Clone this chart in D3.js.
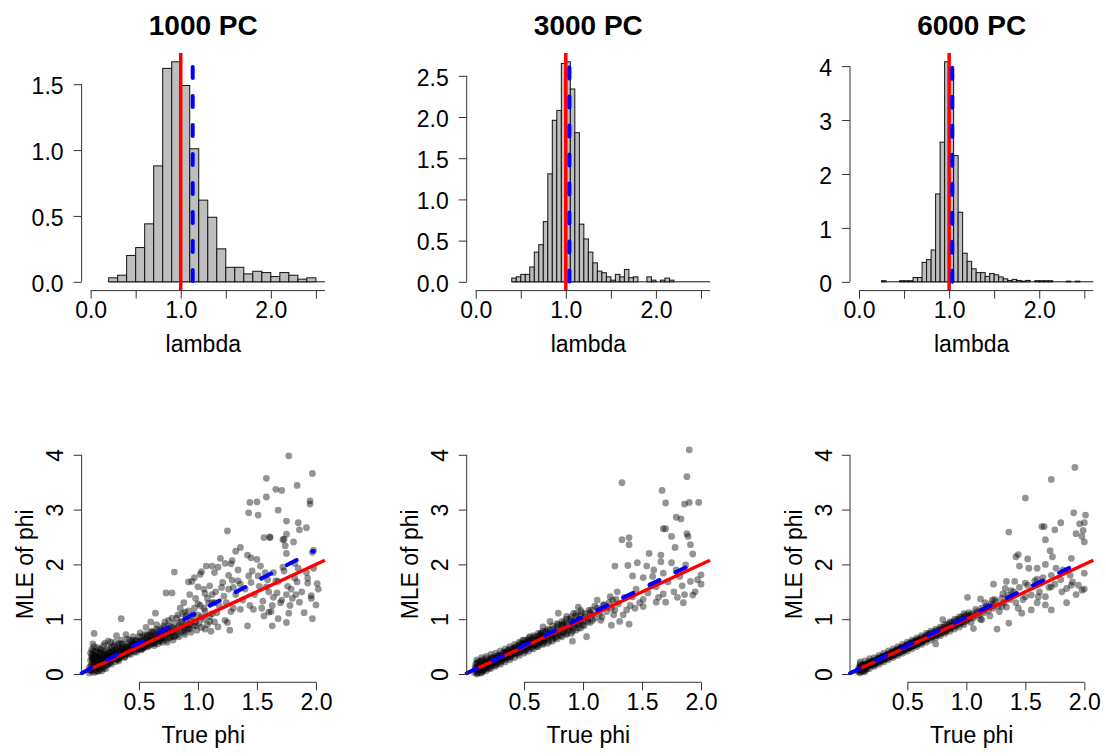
<!DOCTYPE html>
<html lang="en">
<head>
<meta charset="UTF-8">
<title>lambda and phi estimates</title>
<script src="https://d3js.org/d3.v7.min.js"></script>
<style>
  body { margin: 0; background: #fff; }
  svg { display: block; font-family: 'Liberation Sans', Arial, sans-serif; }
</style>
</head>
<body>
<svg id="chart" width="1106" height="756"></svg>
<script>
// ---- data ----
const panelTitles = ['1000 PC', '3000 PC', '6000 PC'];

// histogram of lambda (density), bins start at binStart with width binWidth
const binStart = [0.2, 0.4, 0.25];
const binWidth = [0.1, 0.05, 0.05];
const density1000 = [0.03, 0.05, 0.20, 0.26, 0.44, 0.88, 1.62, 1.67, 1.49, 1.01, 0.62, 0.49,
  0.25, 0.11, 0.11, 0.06, 0.08, 0.07, 0.04, 0.07, 0.05, 0.02, 0.03, 0];
const density3000 = [0.045, 0.06, 0.09, 0.09, 0.18, 0.36, 0.45, 0.73, 1.31, 1.96, 2.08, 2.65,
  2.67, 2.34, 1.81, 0.70, 0.52, 0.36, 0.23, 0.13, 0.11, 0.06, 0.02, 0.09, 0.06, 0.15, 0.05, 0.06,
  0, 0, 0.06, 0.02, 0, 0.02, 0.045, 0.02, 0, 0, 0, 0, 0, 0, 0, 0];
const density6000 = [0.02, 0, 0, 0, 0.02, 0.02, 0.02, 0.08, 0.08, 0.36, 0.41, 0.59, 1.63, 2.59,
  4.08, 3.85, 2.34, 1.29, 0.53, 0.38, 0.24, 0.17, 0.17, 0.10, 0.155, 0.13, 0.09, 0.055, 0.025,
  0.045, 0.025, 0.012, 0.025, 0, 0.02, 0.02, 0.02, 0.02, 0, 0, 0, 0.012, 0, 0.012, 0, 0, 0];
const densities = [density1000, density3000, density6000];

const histXTicks = [0, 0.5, 1, 1.5, 2, 2.5];
const histYTicks = [[0, 0.5, 1, 1.5], [0, 0.5, 1, 1.5, 2, 2.5], [0, 1, 2, 3, 4]];
const histYFormat = ['.1f', '.1f', 'd'];

const trueLambda = 1;
const lambdaHat = [1.133, 1.04, 1.035];
const blueTop = [1.63, 2.6, 3.97];

// scatter: [true phi, MLE of phi]
const pts1000 = [
  [1.77,3.98],[1.97,3.66],[1.58,3.57],[1.84,3.44],[1.66,3.37],[1.71,3.35],[1.58,3.23],[1.44,3.13],[1.50,3.14],[1.95,3.16],
  [1.95,3.10],[1.68,2.99],[1.43,2.94],[1.51,2.90],[1.75,2.79],[1.85,2.76],[1.92,2.67],[1.86,2.63],[1.25,2.61],[1.75,2.55],
  [1.56,2.49],[1.61,2.49],[1.61,2.50],[1.73,2.46],[1.72,2.45],[1.81,2.41],[1.74,2.34],[1.36,2.31],[1.98,2.26],[1.97,2.22],
  [1.32,2.24],[1.75,2.20],[1.42,2.17],[1.45,2.12],[1.29,2.07],[1.19,2.11],[1.50,2.09],[1.07,1.97],[1.12,1.97],[1.17,1.95],
  [1.23,2.02],[1.28,2.01],[1.53,1.97],[1.82,2.02],[1.85,1.93],[1.98,1.93],[0.80,1.86],[1.03,1.87],[1.14,1.85],[1.34,1.90],
  [1.43,1.79],[1.51,1.79],[1.64,1.85],[1.73,1.88],[1.92,1.85],[0.97,1.76],[1.02,1.82],[0.95,1.69],[0.92,1.68],[1.29,1.71],
  [1.10,1.61],[1.21,1.67],[1.36,1.64],[1.45,1.67],[1.59,1.72],[1.68,1.69],[1.82,1.75],[1.93,1.66],[2.01,1.65],[1.00,1.59],
  [1.05,1.55],[1.26,1.55],[1.30,1.58],[1.58,1.59],[1.79,1.55],[2.02,1.55],[0.73,1.48],[0.78,1.48],[1.06,1.47],[1.12,1.45],
  [1.22,1.42],[1.67,1.48],[1.75,1.45],[1.83,1.45],[1.96,1.43],[1.64,1.40],[1.55,1.33],[1.71,1.35],[1.86,1.31],[2.00,1.26],
  [0.88,1.30],[1.09,1.29],[1.14,1.30],[1.36,1.18],[1.28,1.14],[1.47,1.18],[1.62,1.14],[1.77,1.11],[1.23,0.98],[1.25,0.94],
  [1.42,0.88],[1.56,1.06],[1.60,1.13],[1.68,1.01],[1.75,0.94],[1.63,0.88],[1.97,1.01],[0.64,1.11],[0.35,1.01],[0.12,0.74],
  [0.83,1.08],[0.89,1.13],[0.96,1.09],[1.03,1.04],[1.10,0.96],[1.17,0.86],[1.27,0.80],
  [1.05,1.20],[1.08,1.38],[1.12,1.10],[1.15,1.50],[1.18,1.25],[1.20,1.58],[1.24,1.30],[1.26,1.80],[1.30,1.20],[1.32,1.45],
  [1.34,1.70],[1.38,1.35],[1.40,1.55],[1.44,1.25],[1.46,1.88],[1.48,1.45],[1.52,1.60],[1.54,1.20],[1.57,1.85],[1.60,1.50],
  [1.63,1.25],[1.66,1.70],[1.70,1.30],[1.72,1.95],[1.76,1.60],[1.78,1.25],[1.80,1.38],[1.84,1.68],[1.88,1.50],[1.90,1.12],
  [1.93,1.75],[1.96,1.38],[0.98,1.38],[1.00,1.28],[0.93,1.45],[0.85,1.20],[0.90,1.05],[0.78,1.02],[0.72,0.95],[1.06,0.82],
  [1.11,0.78],[0.60,0.95],
  [0.08,0.02],[0.08,0.12],[0.09,0.25],[0.09,0.38],[0.10,0.05],[0.10,0.18],[0.10,0.30],[0.10,0.45],[0.11,0.10],[0.11,0.22],
  [0.11,0.55],[0.12,0.03],[0.12,0.15],[0.12,0.34],[0.13,0.08],[0.13,0.26],[0.13,0.42],[0.14,0.12],[0.14,0.20],[0.15,0.05],
  [0.15,0.30],[0.15,0.48],[0.16,0.14],[0.16,0.38],[0.17,0.09],[0.17,0.24],[0.18,0.18],[0.18,0.44],[0.19,0.12],[0.19,0.30],
  [0.20,0.20],[0.20,0.52],[0.21,0.15],[0.21,0.36],[0.22,0.25],[0.22,0.10],[0.23,0.30],[0.23,0.45],[0.24,0.18],[0.24,0.60],
  [0.25,0.28],[0.25,0.40],[0.26,0.22],[0.27,0.34],[0.27,0.50],[0.28,0.26],[0.29,0.40],[0.30,0.30],[0.30,0.22],[0.31,0.46],
  [0.31,0.70],[0.32,0.35],[0.33,0.28],[0.33,0.55],[0.34,0.40],[0.35,0.32],[0.35,0.62],[0.36,0.45],[0.37,0.36],[0.38,0.50],
  [0.38,0.30],[0.39,0.42],[0.39,0.72],[0.40,0.55],[0.40,0.38],[0.41,0.46],[0.42,0.40],[0.42,0.62],[0.43,0.50],[0.44,0.42],
  [0.45,0.56],[0.45,0.68],[0.46,0.45],[0.47,0.52],[0.48,0.40],[0.48,0.62],[0.49,0.50],[0.50,0.58],[0.50,0.45],[0.51,0.75],
  [0.52,0.52],[0.53,0.60],[0.54,0.48],[0.55,0.66],[0.55,0.55],[0.56,0.85],[0.57,0.58],[0.58,0.50],[0.58,0.70],[0.60,0.62],
  [0.60,0.54],[0.61,0.78],[0.62,0.66],[0.63,0.58],[0.64,0.72],[0.65,0.62],[0.65,0.90],[0.66,0.55],[0.67,0.70],[0.68,0.80],
  [0.69,0.64],[0.70,0.75],[0.70,0.58],[0.71,0.88],[0.72,0.70],[0.73,0.62],[0.74,0.82],[0.75,0.74],[0.75,0.98],[0.76,0.66],
  [0.77,0.86],[0.78,0.76],[0.79,0.62],[0.80,0.92],[0.80,0.80],[0.81,0.70],[0.82,1.02],[0.83,0.84],[0.84,0.68],[0.85,0.94],
  [0.86,0.78],[0.87,1.10],[0.88,0.86],[0.89,0.72],[0.90,0.98],[0.91,0.82],[0.92,1.15],[0.93,0.90],[0.94,0.76],[0.95,1.04],
  [0.96,0.88],[0.97,1.20],[0.98,0.95],[0.99,0.80],[1.00,1.08],[1.01,0.92],[1.02,1.25],[1.03,0.85],[1.05,1.00],[1.06,1.15],
  [1.08,0.90],[1.10,1.05],[1.12,1.30],[1.14,0.95],[1.16,1.12],
  [0.085,0.07],[0.095,0.15],[0.105,0.28],[0.115,0.35],[0.125,0.20],[0.135,0.05],[0.145,0.32],[0.155,0.18],[0.165,0.28],[0.175,0.40],
  [0.185,0.06],[0.195,0.22],[0.205,0.34],[0.215,0.26],[0.225,0.16],[0.235,0.38],[0.245,0.24],[0.255,0.32],[0.265,0.18],[0.275,0.42],
  [0.285,0.32],[0.295,0.36],[0.305,0.38],[0.315,0.26],[0.325,0.42],[0.345,0.34],[0.355,0.48],[0.365,0.40],[0.375,0.44],[0.385,0.36],
  [0.44,0.48],[0.46,0.55],[0.52,0.44],[0.54,0.62],[0.56,0.50],[0.59,0.60],[0.62,0.56],[0.66,0.68],[0.68,0.60],[0.72,0.78],
  [0.09,0.08],[0.10,0.35],[0.11,0.42],[0.12,0.25],[0.12,0.50],[0.13,0.32],[0.14,0.28],[0.14,0.40],[0.15,0.22],[0.16,0.30],
  [0.16,0.06],[0.17,0.34],[0.17,0.46],[0.18,0.25],[0.19,0.38],[0.20,0.28],[0.20,0.10],[0.21,0.42],[0.22,0.32],[0.23,0.22],
  [0.24,0.34],[0.25,0.20],[0.26,0.38],[0.26,0.48],[0.27,0.28],[0.28,0.40],[0.29,0.30],[0.30,0.44],[0.31,0.36],[0.32,0.28],
  [0.32,0.50],[0.34,0.30],[0.34,0.46],[0.36,0.34],[0.36,0.54],[0.37,0.42],[0.38,0.40],[0.40,0.48],[0.41,0.36],[0.42,0.52],
  [0.43,0.44],[0.44,0.58],[0.46,0.40],[0.47,0.60],[0.48,0.48],[0.50,0.52],[0.51,0.60],[0.52,0.46],[0.53,0.68],[0.55,0.50],
  [0.56,0.62],[0.57,0.72],[0.58,0.56],[0.60,0.70],[0.61,0.60],[0.62,0.76],[0.63,0.52],[0.64,0.64],[0.66,0.78],[0.67,0.60],
  [0.68,0.72],[0.70,0.66],[0.71,0.80],[0.73,0.74],[0.74,0.58],[0.76,0.78],[0.77,0.70],[0.79,0.84],[0.80,0.68],[0.82,0.78],
  [0.84,0.88],[0.86,0.96],[0.88,0.76],[0.90,0.90],[0.92,0.84],[0.94,0.96],[0.21,0.56],[0.26,0.58],[0.29,0.52],[0.11,0.30],
  [0.30,0.58],[0.35,0.56],[0.40,0.64],[0.45,0.62],[0.50,0.68],[0.55,0.72],[0.60,0.76],[0.65,0.82],[0.70,0.84],[0.75,0.88],
  [0.33,0.24],[0.38,0.32],[0.43,0.36],[0.48,0.44],[0.53,0.46],[0.58,0.52],[0.63,0.56],[0.68,0.62],[0.73,0.66],[0.78,0.68],
  [0.83,0.72],[0.88,0.80],[0.93,0.82],[0.98,0.88],[0.40,0.50],[0.45,0.50],[0.50,0.55],[0.55,0.58],[0.60,0.66],[0.65,0.70]
];

const pts3000 = [
  [1.90,4.09],[1.33,3.49],[1.88,3.60],[1.67,3.35],[1.70,3.12],[1.86,3.10],[1.90,3.13],[1.98,3.13],[1.79,2.86],[1.83,2.83],
  [1.68,2.65],[1.70,2.65],[1.75,2.51],[1.88,2.56],[1.89,2.51],[1.33,2.45],[1.39,2.49],[1.39,2.36],[1.78,2.31],[1.91,2.36],
  [1.93,2.19],[1.66,2.17],[1.56,2.20],[1.75,2.03],[1.27,1.97],[1.38,1.98],[1.46,2.03],[1.54,1.97],[1.42,1.79],[1.51,1.76],
  [1.59,1.78],[1.68,1.84],[1.79,1.90],[1.87,1.99],[2.00,1.81],[2.00,1.64],[1.84,1.61],[1.77,1.50],[1.86,1.45],[1.93,1.44],
  [1.91,1.69],[1.62,1.59],[1.68,1.46],[1.62,1.31],[1.70,1.31],[1.51,1.36],[1.51,1.23],[1.42,1.41],[1.37,1.17],[1.34,1.08],
  [1.29,1.50],[1.23,1.41],[1.24,0.89],[1.31,0.96],[1.39,0.91],[1.27,1.17],[1.17,1.26],[1.12,1.35],[1.07,1.17],[1.03,0.68],
  [0.91,0.60],[0.96,1.22],[0.97,0.99],[0.92,1.11],[0.79,1.11],[0.72,0.96],[0.83,0.89],[0.86,1.05],[0.66,0.86],[0.55,0.68],
  [0.64,0.74],[0.49,0.62],
  [1.30,1.28],[1.35,1.40],[1.40,1.25],[1.45,1.55],[1.48,1.30],[1.55,1.48],[1.58,1.62],[1.64,1.40],[1.72,1.68],[1.80,1.40],
  [1.85,1.30],[1.95,1.50],[1.97,1.72],[1.60,1.90],[1.66,2.05],[1.82,1.78],[1.44,1.20],[1.20,1.22],[1.25,1.35],[1.15,0.98],
  [1.10,1.24],
  [0.08,0.03],[0.09,0.12],[0.10,0.06],[0.10,0.20],[0.11,0.10],[0.12,0.16],[0.12,0.02],[0.13,0.22],[0.14,0.10],[0.15,0.14],
  [0.15,0.26],[0.16,0.08],[0.17,0.18],[0.18,0.12],[0.18,0.28],[0.19,0.20],[0.20,0.15],[0.21,0.24],[0.22,0.18],[0.23,0.30],
  [0.24,0.22],[0.25,0.16],[0.26,0.28],[0.27,0.24],[0.28,0.34],[0.29,0.26],[0.30,0.22],[0.31,0.32],[0.32,0.38],[0.33,0.28],
  [0.34,0.35],[0.35,0.30],[0.36,0.42],[0.37,0.34],[0.38,0.38],[0.39,0.32],[0.40,0.44],[0.41,0.38],[0.42,0.48],[0.43,0.40],
  [0.44,0.45],[0.45,0.38],[0.46,0.50],[0.47,0.44],[0.48,0.54],[0.49,0.46],[0.50,0.50],[0.51,0.42],[0.52,0.56],[0.53,0.48],
  [0.54,0.60],[0.55,0.52],[0.56,0.47],[0.57,0.58],[0.58,0.54],[0.59,0.64],[0.60,0.56],[0.61,0.50],[0.62,0.62],[0.63,0.58],
  [0.64,0.70],[0.65,0.62],[0.66,0.56],[0.67,0.68],[0.68,0.64],[0.69,0.78],[0.70,0.68],[0.71,0.60],[0.72,0.74],[0.73,0.70],
  [0.74,0.64],[0.75,0.82],[0.76,0.74],[0.77,0.68],[0.78,0.80],[0.79,0.90],[0.80,0.76],[0.81,0.70],[0.82,0.84],[0.83,0.78],
  [0.84,0.94],[0.85,0.82],[0.86,0.74],[0.87,0.88],[0.88,0.84],[0.89,1.00],[0.90,0.86],[0.91,0.78],[0.92,0.94],[0.93,0.90],
  [0.94,1.06],[0.95,0.92],[0.96,0.84],[0.97,1.00],[0.98,0.96],[0.99,1.12],[1.00,0.96],[1.01,0.88],[1.02,1.04],[1.04,1.00],
  [1.05,1.16],[1.06,0.94],[1.08,1.08],[1.10,1.02],[1.12,1.20],[1.14,1.10],[1.16,1.04],[1.18,1.26],[1.20,1.14],[1.22,1.30],
  [1.24,1.20],[1.26,1.08],[1.28,1.36],
  [0.085,0.10],[0.105,0.14],[0.125,0.08],[0.135,0.18],[0.145,0.04],[0.165,0.22],[0.175,0.14],[0.195,0.10],[0.215,0.20],[0.235,0.26],
  [0.255,0.22],[0.275,0.30],[0.295,0.30],[0.315,0.28],[0.345,0.38],[0.365,0.36],[0.395,0.40],[0.425,0.44],[0.455,0.46],[0.485,0.48],
  [0.515,0.52],[0.545,0.54],[0.575,0.56],[0.605,0.62],[0.635,0.64],[0.665,0.66],
  [0.09,0.18],[0.10,0.02],[0.11,0.22],[0.12,0.09],[0.13,0.12],[0.14,0.24],[0.15,0.06],[0.16,0.20],[0.17,0.10],[0.18,0.22],
  [0.19,0.14],[0.20,0.26],[0.21,0.12],[0.22,0.28],[0.23,0.16],[0.24,0.30],[0.25,0.24],[0.26,0.18],[0.27,0.32],[0.28,0.20],
  [0.29,0.34],[0.30,0.28],[0.31,0.24],[0.32,0.30],[0.33,0.40],[0.34,0.26],[0.35,0.40],[0.36,0.30],[0.37,0.44],[0.38,0.30],
  [0.39,0.46],[0.40,0.36],[0.41,0.46],[0.42,0.36],[0.43,0.50],[0.44,0.38],[0.45,0.52],[0.46,0.40],[0.47,0.56],[0.48,0.42],
  [0.49,0.56],[0.50,0.44],[0.51,0.58],[0.52,0.46],[0.53,0.62],[0.54,0.50],[0.55,0.62],[0.56,0.56],[0.57,0.50],[0.58,0.66],
  [0.59,0.52],[0.60,0.68],[0.61,0.60],[0.62,0.54],[0.63,0.70],[0.64,0.58],[0.65,0.74],[0.66,0.62],[0.67,0.60],[0.68,0.76],
  [0.70,0.64],[0.72,0.80],[0.74,0.70],[0.76,0.66],[0.78,0.86],[0.80,0.72],[0.82,0.90],[0.84,0.76],[0.86,0.92],[0.88,0.80],
  [0.90,0.96],[0.92,0.84],[0.94,0.98],[0.96,0.90],[0.98,1.06],[1.00,0.90],[1.02,1.10],[1.04,0.96],[1.06,1.12],[1.08,0.98],
  [0.10,0.00],[0.14,0.02],[0.18,0.06],[0.22,0.10],[0.26,0.14],[0.30,0.18],[0.34,0.22],[0.38,0.26],[0.42,0.30],[0.46,0.34],
  [0.50,0.38],[0.54,0.42],[0.58,0.46],[0.62,0.50],[0.66,0.54],[0.70,0.56],[0.74,0.60],[0.78,0.64],[0.82,0.68],[0.86,0.72],
  [0.90,0.74],[0.94,0.80],[0.98,0.84],
  [0.10,0.26],[0.14,0.30],[0.18,0.32],[0.22,0.36],[0.26,0.38],[0.30,0.42],[0.34,0.46],[0.38,0.50],[0.42,0.54],[0.46,0.58],
  [0.50,0.62],[0.54,0.66],[0.58,0.70],[0.62,0.74],[0.66,0.78],[0.70,0.82],[0.74,0.88],[0.78,0.92],[0.82,0.96],[0.86,1.00],
  [0.90,1.04],[0.94,1.10],[0.98,1.16]
];

const pts6000 = [
  [1.92,3.77],[1.72,3.55],[1.50,3.21],[1.91,2.94],[2.01,2.90],[1.80,2.76],[2.00,2.76],[1.64,2.69],[1.66,2.69],[1.96,2.74],
  [1.75,2.63],[1.99,2.62],[1.93,2.56],[1.98,2.51],[1.67,2.45],[2.00,2.41],[1.36,2.59],[1.71,2.25],[1.42,2.14],[1.44,2.18],
  [1.52,2.10],[1.73,2.14],[1.89,2.11],[1.45,1.97],[1.53,1.93],[1.60,1.93],[1.67,2.00],[1.76,1.93],[2.00,1.84],[1.23,1.64],
  [1.34,1.69],[1.41,1.69],[1.50,1.66],[1.60,1.73],[1.72,1.59],[1.89,1.62],[1.98,1.53],[2.00,1.55],[1.81,1.50],[1.67,1.41],
  [1.85,1.30],[1.72,1.17],[1.55,1.17],[1.44,1.20],[1.47,1.11],[1.36,0.93],[1.26,0.82],[1.01,1.40],[1.12,1.37],[1.22,1.35],
  [1.33,1.56],[1.13,0.99],[1.06,0.83],[0.74,0.55],[0.80,0.99],[1.30,1.23],[1.61,1.41],[1.50,1.41],[1.67,1.26],
  [1.02,1.12],[1.04,0.94],[1.08,1.18],[1.12,1.00],[1.16,1.30],[1.20,1.06],[1.24,1.36],[1.28,1.14],[1.31,1.46],[1.34,1.22],
  [1.38,1.52],[1.42,1.30],[1.45,1.58],[1.48,1.36],[1.52,1.62],[1.55,1.44],[1.58,1.70],[1.62,1.50],[1.65,1.76],[1.70,1.58],
  [1.75,1.64],[1.80,1.72],[1.85,1.56],[1.90,1.68],[1.95,1.62],[1.72,1.80],[1.82,1.90],[1.88,1.80],[1.93,1.45],[1.60,1.30],
  [0.08,0.04],[0.09,0.12],[0.10,0.08],[0.10,0.18],[0.11,0.04],[0.11,0.14],[0.12,0.10],[0.13,0.16],[0.13,0.06],[0.14,0.12],
  [0.15,0.18],[0.15,0.10],[0.16,0.14],[0.17,0.20],[0.18,0.16],[0.19,0.22],[0.20,0.18],[0.21,0.16],[0.22,0.24],[0.23,0.20],
  [0.24,0.26],[0.25,0.22],[0.26,0.28],[0.27,0.24],[0.28,0.30],[0.29,0.26],[0.30,0.32],[0.31,0.28],[0.32,0.34],[0.33,0.30],
  [0.34,0.36],[0.35,0.32],[0.36,0.38],[0.37,0.34],[0.38,0.40],[0.39,0.36],[0.40,0.42],[0.41,0.38],[0.42,0.44],[0.43,0.40],
  [0.44,0.47],[0.45,0.42],[0.46,0.48],[0.47,0.44],[0.48,0.50],[0.49,0.46],[0.50,0.53],[0.51,0.48],[0.52,0.54],[0.53,0.50],
  [0.54,0.57],[0.55,0.52],[0.56,0.58],[0.57,0.54],[0.58,0.61],[0.59,0.56],[0.60,0.62],[0.61,0.58],[0.62,0.66],[0.63,0.60],
  [0.64,0.67],[0.65,0.62],[0.66,0.70],[0.67,0.64],[0.68,0.71],[0.69,0.66],[0.70,0.74],[0.71,0.67],[0.72,0.76],[0.73,0.70],
  [0.74,0.78],[0.75,0.72],[0.76,0.80],[0.77,0.73],[0.78,0.82],[0.79,0.76],[0.80,0.85],[0.81,0.77],[0.82,0.86],[0.83,0.79],
  [0.84,0.90],[0.85,0.82],[0.86,0.92],[0.87,0.83],[0.88,0.94],[0.89,0.86],[0.90,0.96],[0.91,0.88],[0.92,0.99],[0.93,0.90],
  [0.94,1.00],[0.95,0.92],[0.96,1.04],[0.97,0.94],[0.98,1.05],[0.99,0.96],[1.00,1.08],[1.01,0.98],[1.03,1.02],[1.05,1.10],
  [1.07,1.06],[1.09,1.14],[1.11,1.08],[1.13,1.20],[1.15,1.12],[1.17,1.24],[1.19,1.16],[1.21,1.28],[1.23,1.20],[1.25,1.32],
  [1.27,1.24],[1.30,1.38],[1.32,1.30],[1.35,1.44],[1.37,1.36],[1.40,1.50],
  [0.085,0.08],[0.105,0.12],[0.125,0.14],[0.145,0.08],[0.165,0.18],[0.185,0.20],[0.205,0.22],[0.225,0.20],[0.245,0.24],[0.265,0.26],
  [0.285,0.28],[0.305,0.30],[0.325,0.32],[0.345,0.34],[0.365,0.36],[0.385,0.38],[0.405,0.40],[0.425,0.42],[0.445,0.44],[0.465,0.46],
  [0.485,0.48],[0.505,0.50],[0.525,0.52],[0.545,0.55],[0.565,0.56],[0.585,0.58],[0.605,0.60],[0.625,0.63],[0.645,0.64],[0.665,0.66],
  [0.09,0.06],[0.10,0.14],[0.11,0.10],[0.12,0.16],[0.12,0.06],[0.13,0.10],[0.14,0.18],[0.15,0.14],[0.16,0.10],[0.17,0.16],
  [0.18,0.22],[0.19,0.16],[0.20,0.24],[0.21,0.20],[0.22,0.18],[0.23,0.26],[0.24,0.20],[0.25,0.28],[0.26,0.22],[0.27,0.30],
  [0.28,0.24],[0.29,0.32],[0.30,0.26],[0.31,0.34],[0.32,0.28],[0.33,0.36],[0.34,0.30],[0.35,0.38],[0.36,0.32],[0.37,0.40],
  [0.38,0.34],[0.39,0.42],[0.40,0.36],[0.41,0.44],[0.42,0.38],[0.43,0.46],[0.44,0.40],[0.45,0.48],[0.46,0.42],[0.47,0.50],
  [0.48,0.44],[0.49,0.52],[0.50,0.46],[0.51,0.55],[0.52,0.48],[0.53,0.57],[0.54,0.50],[0.55,0.59],[0.56,0.52],[0.57,0.61],
  [0.58,0.54],[0.59,0.63],[0.60,0.56],[0.62,0.58],[0.64,0.62],[0.66,0.64],[0.68,0.74],[0.70,0.68],[0.72,0.72],[0.74,0.70],
  [0.76,0.76],[0.78,0.74],[0.80,0.80],[0.82,0.78],[0.84,0.84],[0.86,0.86],[0.88,0.88],[0.90,0.90],[0.92,0.92],[0.94,0.96],
  [0.96,0.96],[0.98,1.00],[1.00,1.00],[1.02,1.06],[1.04,1.08],[1.06,1.02],[1.10,1.12],[1.14,1.16],[1.18,1.22],[1.22,1.24],
  [0.10,0.02],[0.14,0.04],[0.18,0.10],[0.22,0.14],[0.26,0.18],[0.30,0.22],[0.34,0.26],[0.38,0.30],[0.42,0.34],[0.46,0.38],
  [0.50,0.42],[0.54,0.46],[0.58,0.50],[0.62,0.54],[0.66,0.58],[0.70,0.62],[0.74,0.66],[0.78,0.70],[0.82,0.74],[0.86,0.78],
  [0.90,0.82],[0.94,0.86],[0.98,0.90],
  [0.10,0.22],[0.14,0.24],[0.18,0.28],[0.22,0.30],[0.26,0.34],[0.30,0.38],[0.34,0.42],[0.38,0.46],[0.42,0.50],[0.46,0.54],
  [0.50,0.58],[0.54,0.62],[0.58,0.66],[0.62,0.70],[0.66,0.74],[0.70,0.78],[0.74,0.82],[0.78,0.86],[0.82,0.90],[0.86,0.95],
  [0.90,1.00],[0.94,1.04],[0.98,1.10]
];
const scatterPts = [pts1000, pts3000, pts6000];

const phiDomain = [0.014, 2.076];   // x range of the scatter plots
const phiFit = [0.014, 1.98];       // extent of the fitted (blue) line
const scatXTicks = [0.5, 1, 1.5, 2];
const scatYTicks = [0, 1, 2, 3, 4];

// ---- layout ----
const svg = d3.select('#chart');
const panelLeft = [81.6, 466.7, 850];
const plotW = 243.3;
const histTop = 53, histBottom = 290.6;
const scatTop = 446, scatBottom = 682.8;
const axisCol = '#333';

function tidyAxis(g) {
  g.attr('font-family', null).attr('font-size', null);
  g.select('.domain').remove();
  g.selectAll('.tick line').attr('stroke', axisCol);
  g.selectAll('.tick text').attr('fill', '#000').attr('font-size', 23);
}

panelTitles.forEach((title, i) => {
  const L = panelLeft[i];
  const cx = L + plotW / 2;

  // ---------- histogram ----------
  const dens = densities[i];
  const hmax = d3.max(dens);
  const x = d3.scaleLinear().domain([-0.1, 2.6]).range([L, L + plotW]);
  const y = d3.scaleLinear().domain([-0.04 * hmax, 1.04 * hmax]).range([histBottom, histTop]);
  const h = svg.append('g');

  // empty bins collapse onto the zero line
  h.append('line')
    .attr('x1', x(binStart[i])).attr('x2', x(binStart[i] + dens.length * binWidth[i]))
    .attr('y1', y(0)).attr('y2', y(0))
    .attr('stroke', '#111').attr('stroke-width', 1);

  h.append('g').selectAll('rect').data(dens.map((d, j) => ({ d, j })).filter(b => b.d > 0))
    .join('rect')
    .attr('x', b => x(binStart[i] + b.j * binWidth[i]))
    .attr('width', x(binWidth[i]) - x(0))
    .attr('y', b => y(b.d))
    .attr('height', b => y(0) - y(b.d))
    .attr('fill', '#bebebe')
    .attr('stroke', '#111')
    .attr('stroke-width', 1);

  h.append('line')
    .attr('x1', x(trueLambda)).attr('x2', x(trueLambda))
    .attr('y1', histTop).attr('y2', histBottom)
    .attr('stroke', '#ff0000').attr('stroke-width', 3.5);

  h.append('line')
    .attr('x1', x(lambdaHat[i])).attr('x2', x(lambdaHat[i]))
    .attr('y1', y(blueTop[i])).attr('y2', histBottom)
    .attr('stroke', '#0000ff').attr('stroke-width', 4)
    .attr('stroke-dasharray', '11,18').attr('stroke-linecap', 'round');

  const hx = h.append('g').attr('transform', `translate(0,${histBottom})`)
    .call(d3.axisBottom(x).tickValues(histXTicks).tickSize(8).tickPadding(3)
      .tickFormat(d => d % 1 === 0 ? d3.format('.1f')(d) : ''));
  tidyAxis(hx);
  hx.append('line').attr('x1', x(histXTicks[0])).attr('x2', x(2.6))
    .attr('stroke', axisCol);

  const yt = histYTicks[i];
  const hy = h.append('g').attr('transform', `translate(${L},0)`)
    .call(d3.axisLeft(y).tickValues(yt).tickSize(8).tickPadding(10)
      .tickFormat(d3.format(histYFormat[i])));
  tidyAxis(hy);
  hy.selectAll('.tick text').attr('dy', '0.4em');
  hy.append('line').attr('y1', y(yt[0])).attr('y2', y(yt[yt.length - 1]))
    .attr('stroke', axisCol);

  h.append('text').attr('x', cx).attr('y', 35)
    .attr('text-anchor', 'middle').attr('font-size', 28).attr('font-weight', 'bold')
    .text(title);
  h.append('text').attr('x', cx).attr('y', 351.7)
    .attr('text-anchor', 'middle').attr('font-size', 23)
    .text('lambda');

  // ---------- scatter ----------
  const xs = d3.scaleLinear().domain(phiDomain).range([L, L + plotW]);
  const ys = d3.scaleLinear().domain([-0.16, 4.16]).range([scatBottom, scatTop]);
  const s = svg.append('g');

  s.append('g').selectAll('circle').data(scatterPts[i]).join('circle')
    .attr('cx', d => xs(d[0]))
    .attr('cy', d => ys(d[1]))
    .attr('r', 3.4)
    .attr('fill', 'rgba(0,0,0,0.42)');

  s.append('line')
    .attr('x1', xs(phiDomain[0])).attr('y1', ys(phiDomain[0]))
    .attr('x2', xs(phiDomain[1])).attr('y2', ys(phiDomain[1]))
    .attr('stroke', '#ff0000').attr('stroke-width', 3.5);

  s.append('line')
    .attr('x1', xs(phiFit[0])).attr('y1', ys(lambdaHat[i] * phiFit[0]))
    .attr('x2', xs(phiFit[1])).attr('y2', ys(lambdaHat[i] * phiFit[1]))
    .attr('stroke', '#0000ff').attr('stroke-width', 4)
    .attr('stroke-dasharray', '11,18').attr('stroke-linecap', 'round');

  const sx = s.append('g').attr('transform', `translate(0,${scatBottom - 0.5})`)
    .call(d3.axisBottom(xs).tickValues(scatXTicks).tickSize(8).tickPadding(3)
      .tickFormat(d3.format('.1f')));
  tidyAxis(sx);
  sx.append('line').attr('x1', xs(scatXTicks[0])).attr('x2', xs(scatXTicks[scatXTicks.length - 1]))
    .attr('stroke', axisCol);

  const sy = s.append('g').attr('transform', `translate(${L},0)`)
    .call(d3.axisLeft(ys).tickValues(scatYTicks).tickSize(8).tickFormat(d3.format('d')));
  tidyAxis(sy);
  sy.selectAll('.tick text')
    .attr('x', null).attr('dy', null)
    .attr('text-anchor', 'middle')
    .attr('transform', 'translate(-18.4,0) rotate(-90)');
  sy.append('line').attr('y1', ys(scatYTicks[0])).attr('y2', ys(scatYTicks[scatYTicks.length - 1]))
    .attr('stroke', axisCol);

  s.append('text').attr('x', cx).attr('y', 742.7)
    .attr('text-anchor', 'middle').attr('font-size', 23)
    .text('True phi');
  s.append('text')
    .attr('transform', `translate(${L - 48.3},${(scatTop + scatBottom) / 2}) rotate(-90)`)
    .attr('text-anchor', 'middle').attr('font-size', 23)
    .text('MLE of phi');
});
</script>
</body>
</html>
